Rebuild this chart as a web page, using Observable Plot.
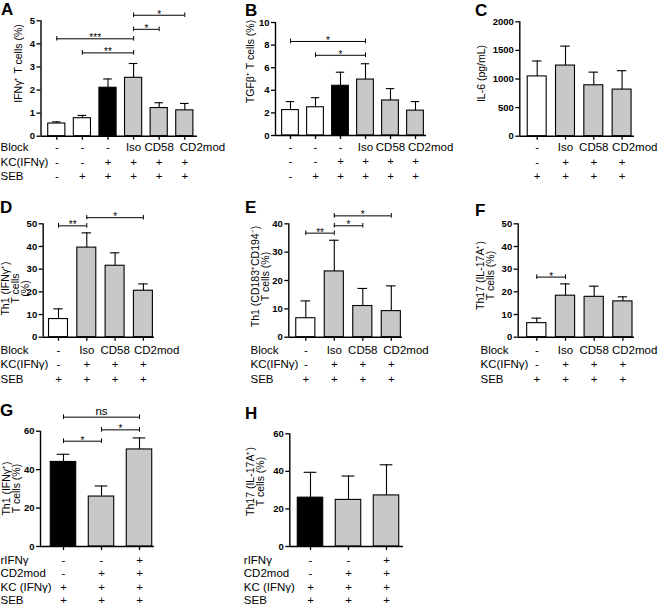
<!DOCTYPE html>
<html><head><meta charset="utf-8">
<script src="https://cdn.jsdelivr.net/npm/d3@7"></script>
<script src="https://cdn.jsdelivr.net/npm/@observablehq/plot@0.6"></script>
<style>
html,body{margin:0;padding:0;background:#fff}
#fig{position:relative;width:658px;height:605px;overflow:hidden;font-family:"Liberation Sans",Arial,Helvetica,sans-serif;color:#000;background:#fff}
.panel{position:absolute}
.panel svg{overflow:visible}
.letter{position:absolute;font-weight:bold;font-size:17px;line-height:1}
</style></head><body><div id="fig"></div>
<script>
// ---------- data ----------
const groupsA = ["open","open","filled","grey","grey","grey"];
const groups4 = ["open","grey","grey","grey"];
const groups3 = ["filled","grey","grey"];

const aMean = [0.55, 0.78, 2.10, 2.53, 1.22, 1.12];
const aSD   = [0.07, 0.12, 0.38, 0.62, 0.23, 0.30];
const aYTicks = [0, 1, 2, 3, 4, 5];
const aSig = [[0,3,4.22,"***"],[1,3,3.61,"**"],[3,4,4.63,"*"],[3,5,5.24,"*"]];

const bMean = [2.25, 2.50, 4.40, 4.95, 3.10, 2.20];
const bSD   = [0.75, 0.85, 1.20, 1.40, 1.05, 0.80];
const bYTicks = [0, 2, 4, 6, 8, 10];
const bSig = [[0,3,8.32,"*"],[1,3,7.1,"*"]];

const abBlock = ["-","-","-","Iso","CD58","CD2mod"];
const abKC    = ["-","-","+","+","+","+"];
const abSEB   = ["-","+","+","+","+","+"];

const cMean = [1045, 1235, 890, 815];
const cSD   = [270, 340, 230, 330];
const cYTicks = [0, 500, 1000, 1500, 2000];

const dMean = [8, 39.5, 31.5, 20.5];
const dSD   = [4.5, 6.5, 5.7, 3.0];
const dYTicks = [0, 10, 20, 30, 40, 50];
const dSig = [[0,1,49.1,"**"],[1,3,52.7,"*"]];

const eMean = [6.7, 23.2, 11.0, 9.2];
const eSD   = [6.1, 11.0, 6.2, 8.9];
const eYTicks = [0, 10, 20, 30, 40];
const eSig = [[0,1,36.7,"**"],[1,2,39.3,"*"],[1,3,42.8,"*"]];

const fMean = [6.2, 18.3, 17.8, 15.8];
const fSD   = [2.2, 5.2, 4.7, 2.0];
const fYTicks = [0, 10, 20, 30, 40, 50];
const fSig = [[0,1,26.5,"*"]];

const cfBlock = ["-","Iso","CD58","CD2mod"];
const cfKC    = ["-","+","+","+"];
const cfSEB   = ["+","+","+","+"];

const gMean = [44, 26, 50.5];
const gSD   = [4.0, 5.5, 6.0];
const gYTicks = [0, 20, 40, 60];
const gSig = [[0,1,54.8,"*"],[1,2,60.7,"*"],[0,2,67.3,"ns"]];

const hMean = [26, 24.8, 27.2];
const hSD   = [13.5, 12.7, 16.3];
const hYTicks = [0, 20, 40, 60];

const ghIFN = ["-","-","+"];
const ghCD2 = ["-","+","+"];
const ghKC  = ["+","+","+"];
const ghSEB = ["+","+","+"];

const rowLabels3 = ["Block","KC(IFNγ)","SEB"];
const rowLabels4 = ["rIFNγ","CD2mod","KC (IFNγ)","SEB"];

// ---------- layout ----------
const FONT = '"Liberation Sans", Arial, Helvetica, sans-serif';
const topRowDy = [11.5, 26.3, 40.5];
const midRowDy = [13, 27.5, 41.7];
const botRowDy = [13.5, 27, 40.8, 54.3];

const panels = [
  {letter:"A", lx:1, ly:1, box:[0,0,220,190], L:40.5, R:197, c0:56.3, step:25.6, yTop:20.3, yZero:135.7, yMax:5,
   mean:aMean, sd:aSD, groups:groupsA, yTicks:aYTicks, sig:aSig, table:[abBlock,abKC,abSEB], rowDy:topRowDy, cdDx:-5,
   rowLabels:rowLabels3, rowLabelX:0, ylabel:"IFNγ⁺ T cells (%)", ylabelX:18.5, ylabelY:63},
  {letter:"B", lx:245, ly:2, box:[220,0,220,190], L:275, R:426, c0:290, step:25, yTop:22, yZero:135, yMax:10,
   mean:bMean, sd:bSD, groups:groupsA, yTicks:bYTicks, sig:bSig, table:[abBlock,abKC,abSEB], rowDy:topRowDy, cdDx:-7.5,
   rowLabels:null, ylabel:"TGFβ⁺ T cells (%)", ylabelX:250, ylabelY:61},
  {letter:"C", lx:475, ly:2, box:[440,0,218,190], L:519.3, R:634, c0:536.7, step:28.3, yTop:21.3, yZero:135.7, yMax:2000,
   mean:cMean, sd:cSD, groups:groups4, yTicks:cYTicks, sig:[], table:[cfBlock,cfKC,cfSEB], rowDy:topRowDy, cdDx:-10,
   rowLabels:null, ylabel:"IL-6 (pg/mL)", ylabelX:481.7, ylabelY:73},
  {letter:"D", lx:0, ly:199, box:[0,195,220,195], L:42.7, R:154, c0:58, step:28.3, yTop:223.3, yZero:336.7, yMax:50,
   mean:dMean, sd:dSD, groups:groups4, yTicks:dYTicks, sig:dSig, table:[cfBlock,cfKC,cfSEB], rowDy:midRowDy, cdDx:-9.5,
   rowLabels:rowLabels3, rowLabelX:0, ylabel:"Th1 (IFNγ⁺)\nT cells\n(%)", ylabelX:15.3, ylabelY:288},
  {letter:"E", lx:245, ly:199, box:[220,195,220,195], L:288.3, R:402, c0:305.3, step:28.5, yTop:223.3, yZero:336.7, yMax:40,
   mean:eMean, sd:eSD, groups:groups4, yTicks:eYTicks, sig:eSig, table:[cfBlock,cfKC,cfSEB], rowDy:midRowDy, cdDx:-8,
   rowLabels:rowLabels3, rowLabelX:250, ylabel:"Th1 (CD183⁺CD194⁻)\nT cells (%)", ylabelX:260.3, ylabelY:276},
  {letter:"F", lx:475, ly:202, box:[440,195,218,195], L:517.7, R:634, c0:536.3, step:28.7, yTop:223.3, yZero:336.7, yMax:50,
   mean:fMean, sd:fSD, groups:groups4, yTicks:fYTicks, sig:fSig, table:[cfBlock,cfKC,cfSEB], rowDy:midRowDy, cdDx:-11,
   rowLabels:rowLabels3, rowLabelX:480, ylabel:"Th17 (IL-17A⁺)\nT cells (%)", ylabelX:485.3, ylabelY:275},
  {letter:"G", lx:0, ly:402, box:[0,400,220,205], L:40, R:154, c0:63, step:38, yTop:430.7, yZero:546, yMax:60,
   mean:gMean, sd:gSD, groups:groups3, yTicks:gYTicks, sig:gSig, table:[ghIFN,ghCD2,ghKC,ghSEB], rowDy:botRowDy, cdDx:-8,
   rowLabels:rowLabels4, rowLabelX:0, ylabel:"Th1 (IFNγ⁺)\nT cells (%)", ylabelX:11.3, ylabelY:488},
  {letter:"H", lx:245, ly:405, box:[220,400,220,205], L:289.3, R:403, c0:310, step:38, yTop:433.3, yZero:546, yMax:60,
   mean:hMean, sd:hSD, groups:groups3, yTicks:hYTicks, sig:[], table:[ghIFN,ghCD2,ghKC,ghSEB], rowDy:botRowDy, cdDx:-8,
   rowLabels:rowLabels4, rowLabelX:243.3, ylabel:"Th17 (IL-17A⁺)\nT cells (%)", ylabelX:255.7, ylabelY:481}
];

const fig = document.getElementById("fig");

function drawPanel(p) {
  const n = p.mean.length;
  const bars = p.mean.map((m, i) => ({i, m, top: m + p.sd[i], g: p.groups[i]}));
  const lo = (p.L - p.c0) / p.step, hi = (p.R - p.c0) / p.step;
  const half = 0.335, cap = half * 0.5;
  const [bx, by, bw, bh] = p.box;
  const k = (p.yZero - p.yTop) / p.yMax;
  const e = 2.3 / k;
  const sig = p.sig.map(([a, b, level, label]) => ({a, b, level, label}));
  const ends = sig.flatMap(s => [{x: s.a, level: s.level}, {x: s.b, level: s.level}]);

  const marks = [
    Plot.rectY(bars, {x1: d => d.i - half, x2: d => d.i + half, y: "m", fill: "g", stroke: "#000", strokeWidth: 1.1}),
    Plot.ruleX(bars, {x: "i", y1: "m", y2: "top", strokeWidth: 1.1}),
    Plot.ruleY(bars, {y: "top", x1: d => d.i - cap, x2: d => d.i + cap, strokeWidth: 1.1}),
    Plot.ruleX([lo], {y1: 0, y2: p.yMax, strokeWidth: 1.4}),
    Plot.ruleY([0], {x1: lo, x2: hi, strokeWidth: 1.4}),
    Plot.axisY({ticks: p.yTicks, tickSize: 4, tickPadding: 2, fontSize: 9.5, fontWeight: "bold", tickFormat: d => String(d), label: null, strokeWidth: 1.3}),
    Plot.axisX({ticks: d3.range(n), tickSize: 4, tickFormat: () => "", label: null, strokeWidth: 1.3}),
    Plot.ruleY(sig, {y: "level", x1: "a", x2: "b", strokeWidth: 1}),
    Plot.ruleX(ends, {x: "x", y1: d => d.level - e, y2: d => d.level + e, strokeWidth: 1}),
    Plot.text(sig.filter(s => s.label !== "ns"), {x: d => (d.a + d.b) / 2, y: "level", text: "label", fontSize: 10, lineAnchor: "bottom", dy: 2.5}),
    Plot.text(sig.filter(s => s.label === "ns"), {x: d => (d.a + d.b) / 2, y: "level", text: "label", fontSize: 11.5, lineAnchor: "bottom", dy: -2}),
    Plot.text([p.ylabel], {text: d => d, frameAnchor: "top-left", rotate: -90, dx: p.ylabelX - p.L, dy: p.ylabelY - p.yTop, fontSize: 10.5, lineHeight: 0.92, textAnchor: "middle", lineAnchor: "middle"})
  ];
  p.table.forEach((vals, r) => {
    const cells = vals.map((t, i) => ({i, t}));
    marks.push(Plot.text(cells.filter(d => d.t !== "CD2mod"), {x: "i", text: "t", frameAnchor: "bottom", lineAnchor: "middle", dy: p.rowDy[r], fontSize: 11.5}));
    marks.push(Plot.text(cells.filter(d => d.t === "CD2mod"), {x: "i", text: "t", frameAnchor: "bottom", lineAnchor: "middle", textAnchor: "start", dx: p.cdDx, dy: p.rowDy[r], fontSize: 11.5}));
    if (p.rowLabels) {
      marks.push(Plot.text([p.rowLabels[r]], {text: d => d, frameAnchor: "bottom-left", textAnchor: "start", lineAnchor: "middle", dx: p.rowLabelX - p.L, dy: p.rowDy[r], fontSize: 11.5}));
    }
  });

  const chart = Plot.plot({
    width: bw, height: bh,
    marginLeft: p.L - bx, marginRight: bx + bw - p.R,
    marginTop: p.yTop - by, marginBottom: by + bh - p.yZero,
    x: {type: "linear", domain: [lo, hi]},
    y: {type: "linear", domain: [0, p.yMax]},
    color: {domain: ["open", "filled", "grey"], range: ["#ffffff", "#000000", "#c8c8c8"]},
    style: {fontFamily: FONT, background: "transparent", overflow: "visible", maxWidth: "none", color: "#000"},
    marks
  });
  chart.querySelectorAll('g[aria-label*="y-axis"]').forEach(g => {
    g.style.fontWeight = "bold";
    g.querySelectorAll("text").forEach(t => { t.style.fontWeight = "bold"; });
  });
  const div = document.createElement("div");
  div.className = "panel";
  div.style.left = bx + "px"; div.style.top = by + "px";
  div.style.width = bw + "px"; div.style.height = bh + "px";
  div.appendChild(chart);
  fig.appendChild(div);

  const lt = document.createElement("div");
  lt.className = "letter";
  lt.style.left = p.lx + "px"; lt.style.top = p.ly + "px";
  lt.textContent = p.letter;
  fig.appendChild(lt);
}
panels.forEach(drawPanel);
</script></body></html>
